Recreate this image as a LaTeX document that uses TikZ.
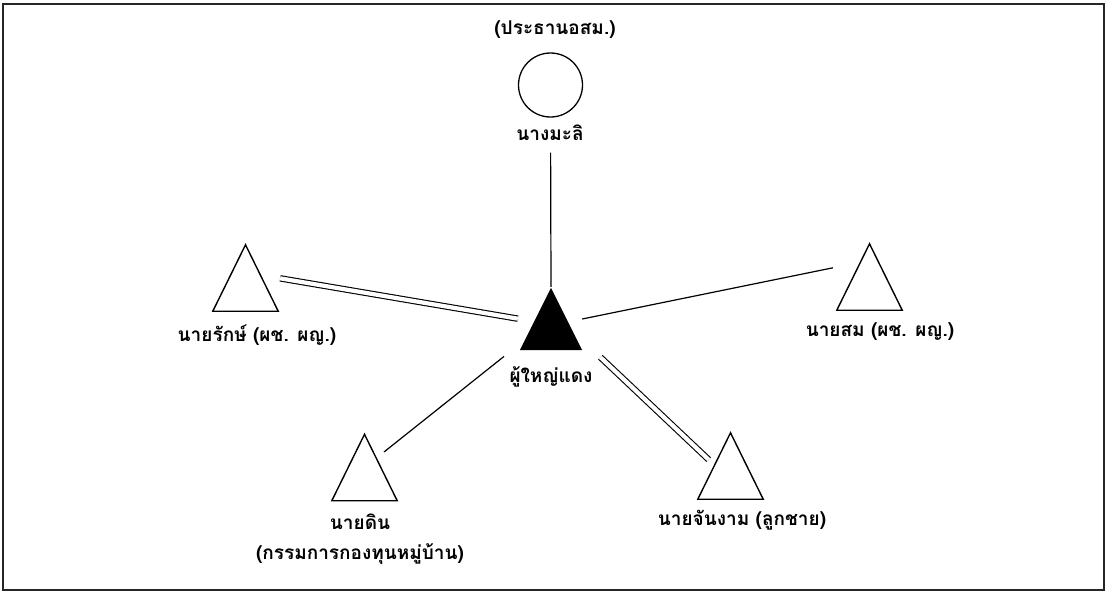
\documentclass[tikz,border=0pt]{standalone}
\usepackage{fontspec}
\newfontfamily\thaifont[Script=Thai]{Loma}
\usetikzlibrary{calc}
\begin{document}
\begin{tikzpicture}[x=1pt,y=-1pt,
  lbl/.style={font=\thaifont\bfseries\fontsize{19}{30}\selectfont, inner sep=0, align=center},
  person/.style={minimum width=65pt, minimum height=66pt, inner sep=0, draw=none},
  leader/.style={minimum width=62pt, minimum height=62pt, inner sep=0, draw=none},
  tri/.style={line width=1.4pt, line join=miter},
  edge/.style={line width=1.2pt},
  dbl/.style={double, double distance=4.2pt, line width=1.1pt},
]
\useasboundingbox (0,0) rectangle (1110,592);
\draw[line width=2pt, draw=black!85] (3,3.5) rectangle (1104,590);

% people
\node[draw, circle, minimum size=64pt, inner sep=0, line width=1.3pt] (mali) at (550.5,85) {};
\node[leader] (daeng) at (551,319) {};
\node[person] (rak) at (245.5,278) {};
\node[person] (som) at (869.5,277) {};
\node[person] (din) at (364.5,467.5) {};
\node[person] (jan) at (730.5,466) {};

\foreach \p in {rak,som,din,jan}
  \draw[tri] (\p.south west) -- (\p.north) -- (\p.south east) -- cycle;
\fill[black] (daeng.south west) -- (daeng.north) -- (daeng.south east) -- cycle;

% labels
\node[lbl] (tmali) at (555,30) {(ประธานอสม.)};
\node[lbl] (lmali) at (550,133) {นางมะลิ};
\node[lbl] (lrak) at (257,335) {นายรักษ์ (ผช. ผญ.)};
\node[lbl] (ldaeng) at (551,377) {ผู้ใหญ่แดง};
\node[lbl] (lsom) at (880,332) {นายสม (ผช. ผญ.)};
\node[lbl] (ldin) at (360,539) {นายดิน\\(กรรมการกองทุนหมู่บ้าน)};
\node[lbl] (ljan) at (742,520) {นายจันงาม (ลูกชาย)};

% connectors
\draw[edge, shorten <=35pt, shorten >=1pt] (mali.south) -- (daeng.north);
\draw[dbl, shorten <=2pt, shorten >=2pt] (rak.east) -- (daeng.west);
\draw[edge, shorten >=4pt] (daeng.east) -- (som.163);
\draw[edge, shorten <=60pt, shorten >=25pt] (daeng.center) -- (din.center);
\draw[dbl, shorten <=25pt, shorten >=-15pt] (daeng.-34) -- (jan.153);
\end{tikzpicture}
\end{document}
